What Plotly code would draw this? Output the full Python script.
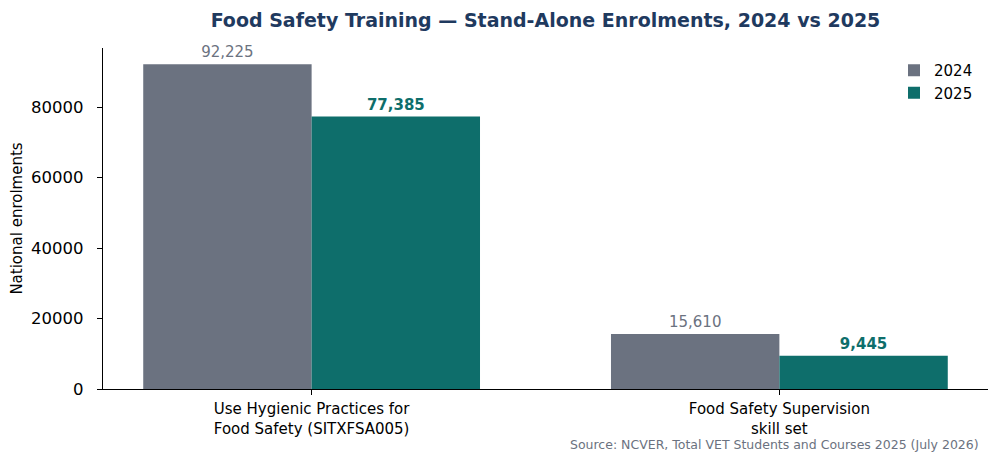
import plotly.graph_objects as go

# enrolment data
categories = ["Use Hygienic Practices for<br>Food Safety (SITXFSA005)",
              "Food Safety Supervision<br>skill set"]
enrol_2024 = [92225, 15610]
enrol_2025 = [77385, 9445]
years = ["2024", "2025"]
y_ticks = [0, 20000, 40000, 60000, 80000]

GREY = "#6b7280"
TEAL = "#0e6e6b"
FONT = "DejaVu Sans, Verdana, sans-serif"

# page body adds 8px margin, so the figure is 8px smaller and offset
OFF = 8
W, H = 1000 - OFF, 463 - OFF
L, R, T, B = 103 - OFF, 12, 48 - OFF, 74
plot_w = W - L - R
plot_h = H - T - B

fig = go.Figure()
fig.add_trace(go.Bar(
    x=categories, y=enrol_2024, name=years[0],
    marker=dict(color=GREY, line=dict(width=0)),
    text=[f"{v:,}" for v in enrol_2024],
    textposition="outside",
    textfont=dict(color=GREY, size=15, family=FONT),
    cliponaxis=False,
))
fig.add_trace(go.Bar(
    x=categories, y=enrol_2025, name=years[1],
    marker=dict(color=TEAL, line=dict(width=0)),
    text=[f"<b>{v:,}</b>" for v in enrol_2025],
    textposition="outside",
    textfont=dict(color=TEAL, size=15, family=FONT),
    cliponaxis=False,
))

fig.update_layout(
    width=W, height=H,
    margin=dict(l=L, r=R, t=T, b=B, autoexpand=False),
    paper_bgcolor="#fff",
    plot_bgcolor="#fff",
    font=dict(family=FONT, size=15, color="#000"),
    barmode="group",
    bargap=0.28,
    bargroupgap=0,
    title=dict(
        text="<b>Food Safety Training — Stand-Alone Enrolments, 2024 vs 2025</b>",
        x=0.5, xref="paper", xanchor="center",
        y=1 - (20 - OFF) / H, yref="container", yanchor="middle",
        font=dict(size=19, color="#1f3a5f", family=FONT),
    ),
    legend=dict(
        x=1 - 10 / plot_w, xanchor="right",
        y=1 - 6 / plot_h, yanchor="top",
        bgcolor="rgba(0,0,0,0)",
        font=dict(size=15),
        tracegroupgap=0,
    ),
    showlegend=True,
)

fig.update_xaxes(
    range=[-0.446, 1.446],
    automargin=False,
    showline=True, linecolor="#000", linewidth=1.3,
    ticks="outside", ticklen=5, tickcolor="#000",
    showgrid=False, zeroline=False,
    tickfont=dict(size=15),
    ticklabelstandoff=1,
)
fig.update_yaxes(
    range=[0, 96836],
    automargin=False,
    tickvals=y_ticks,
    ticktext=[str(v) for v in y_ticks],
    showline=True, linecolor="#000", linewidth=1.3,
    ticks="outside", ticklen=5, tickcolor="#000",
    showgrid=False, zeroline=False,
    tickfont=dict(size=16.5),
    ticklabelstandoff=10,
    title=dict(text="National enrolments", font=dict(size=15), standoff=5),
)

fig.add_annotation(
    text="Source: NCVER, Total VET Students and Courses 2025 (July 2026)",
    xref="paper", yref="paper",
    x=(981 - OFF - L) / plot_w, xanchor="right",
    y=-(444 - 389) / plot_h, yanchor="middle",
    showarrow=False,
    font=dict(size=12.5, color=GREY),
)

fig.write_html("out.html")
